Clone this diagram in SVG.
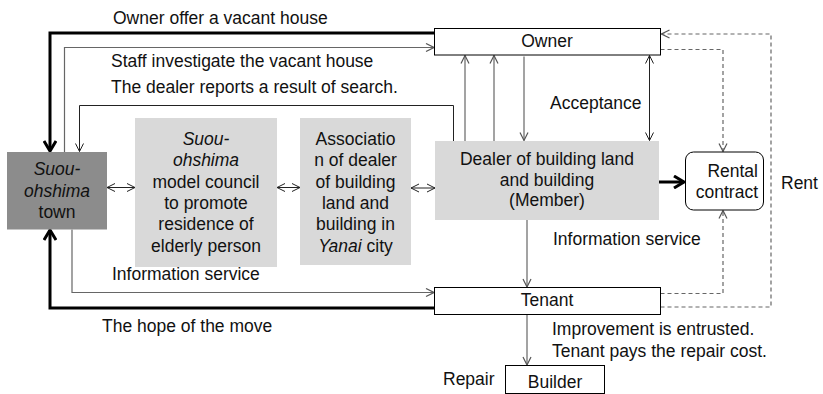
<svg xmlns="http://www.w3.org/2000/svg" width="823" height="394" viewBox="0 0 823 394">
<style>
text{font-family:"Liberation Sans",Arial,sans-serif;font-size:17.5px;fill:#111}
.c{text-anchor:middle}
.i{font-style:italic}
.box{fill:#fff;stroke:#000;stroke-width:1}
.gray{fill:#d9d9d9}
.dark{fill:#8c8c8c}
.ln{fill:none;stroke:#222;stroke-width:1}
.lg{fill:none;stroke:#666;stroke-width:1.2}
.th{fill:none;stroke:#000;stroke-width:3}
.ds{fill:none;stroke:#666;stroke-width:1.2;stroke-dasharray:4 3}
</style>
<defs>
<marker id="ab" viewBox="0 0 10 10" refX="9" refY="5" markerWidth="10" markerHeight="10" markerUnits="userSpaceOnUse" orient="auto-start-reverse"><path d="M1,1 L9,5 L1,9" fill="none" stroke="#222" stroke-width="1"/></marker>
<marker id="ag" viewBox="0 0 10 10" refX="9" refY="5" markerWidth="10" markerHeight="10" markerUnits="userSpaceOnUse" orient="auto-start-reverse"><path d="M1,1 L9,5 L1,9" fill="none" stroke="#555" stroke-width="1.2"/></marker>
<marker id="at" viewBox="0 0 14 14" refX="11.5" refY="7" markerWidth="14" markerHeight="14" markerUnits="userSpaceOnUse" orient="auto"><path d="M1.5,1 L11.5,7 L1.5,13" fill="none" stroke="#000" stroke-width="3"/></marker>
</defs>

<g id="connectors">
<polyline class="th" points="434,33 50,33 50,151" marker-end="url(#at)"/>
<polyline class="th" points="434,308 50,308 50,230" marker-end="url(#at)"/>
<polyline class="lg" points="64.5,152 64.5,47.5 434,47.5" marker-end="url(#ag)"/>
<polyline class="ln" points="453.5,141 453.5,105.5 79.5,105.5 79.5,151.5" marker-end="url(#ab)"/>
<polyline class="lg" points="72,229.5 72,292.5 434,292.5" marker-end="url(#ag)"/>
<line class="lg" x1="465" y1="141" x2="465" y2="55.5" marker-end="url(#ag)"/>
<line class="lg" x1="494" y1="141" x2="494" y2="55.5" marker-end="url(#ag)"/>
<line class="lg" x1="524" y1="56.5" x2="524" y2="140.5" marker-end="url(#ag)"/>
<line class="ln" x1="649.5" y1="55.5" x2="649.5" y2="140.5" marker-start="url(#ab)" marker-end="url(#ab)"/>
<line class="lg" x1="527" y1="220" x2="527" y2="287" marker-end="url(#ag)"/>
<line class="lg" x1="527" y1="314.5" x2="527" y2="365" marker-end="url(#ag)"/>
<line class="ln" x1="107" y1="187.5" x2="135" y2="187.5" marker-start="url(#ab)" marker-end="url(#ab)"/>
<line class="ln" x1="277" y1="187.5" x2="300" y2="187.5" marker-start="url(#ab)" marker-end="url(#ab)"/>
<line class="ln" x1="411" y1="188" x2="435" y2="188" marker-start="url(#ab)" marker-end="url(#ab)"/>
<line class="th" x1="659" y1="182" x2="684" y2="182" marker-end="url(#at)"/>
<polyline class="ds" points="660.5,307 771,307 771,34 661.5,34" marker-end="url(#ag)"/>
<polyline class="ds" points="660.5,49.5 723,49.5 723,151.5" marker-end="url(#ag)"/>
<polyline class="ds" points="660.5,293.5 723,293.5 723,210.5" marker-end="url(#ag)"/>
</g>

<g id="labels">
<text x="113" y="24">Owner offer a vacant house</text>
<text x="111" y="66.5">Staff investigate the vacant house</text>
<text x="111" y="93">The dealer reports a result of search.</text>
<text x="550" y="109">Acceptance</text>
<text x="553" y="245">Information service</text>
<text x="112" y="280">Information service</text>
<text x="102" y="332">The hope of the move</text>
<text x="552" y="335">Improvement is entrusted.</text>
<text x="552" y="357">Tenant pays the repair cost.</text>
<text x="443" y="385">Repair</text>
<text x="781" y="189">Rent</text>
</g>

<g id="owner">
<rect class="box" x="434.5" y="28.5" width="226" height="26.5"/>
<text class="c" x="547" y="47">Owner</text>
</g>

<g id="tenant">
<rect class="box" x="434.5" y="287.5" width="226" height="27"/>
<text class="c" x="547" y="306">Tenant</text>
</g>

<g id="builder">
<rect class="box" x="505.5" y="365.5" width="99" height="28"/>
<text class="c" x="555" y="388">Builder</text>
</g>

<g id="town">
<rect class="dark" x="7" y="152" width="100" height="77.5"/>
<text class="c i" x="57" y="175">Suou-</text>
<text class="c i" x="57" y="196.5">ohshima</text>
<text class="c" x="57" y="218">town</text>
</g>

<g id="council">
<rect class="gray" x="135" y="118" width="142" height="149"/>
<text class="c i" x="206" y="145">Suou-</text>
<text class="c i" x="206" y="166.3">ohshima</text>
<text class="c" x="206" y="187.6">model council</text>
<text class="c" x="206" y="209">to promote</text>
<text class="c" x="206" y="230.3">residence of</text>
<text class="c" x="206" y="251.5">elderly person</text>
</g>

<g id="association">
<rect class="gray" x="300" y="118" width="111" height="147"/>
<text class="c" x="355.5" y="145">Associatio</text>
<text class="c" x="355.5" y="166.3">n of dealer</text>
<text class="c" x="355.5" y="187.6">of building</text>
<text class="c" x="355.5" y="209">land and</text>
<text class="c" x="355.5" y="230.3">building in</text>
<text class="c" x="355.5" y="251.5"><tspan class="i">Yanai</tspan> city</text>
</g>

<g id="dealer">
<rect class="gray" x="435" y="141" width="224" height="79"/>
<text class="c" x="547" y="165">Dealer of building land</text>
<text class="c" x="547" y="186">and building</text>
<text class="c" x="547" y="206">(Member)</text>
</g>

<g id="rental">
<rect class="box" x="685.5" y="152" width="78" height="58" rx="8"/>
<text x="758" y="177" text-anchor="end">Rental</text>
<text x="758" y="198" text-anchor="end">contract</text>
</g>
</svg>
